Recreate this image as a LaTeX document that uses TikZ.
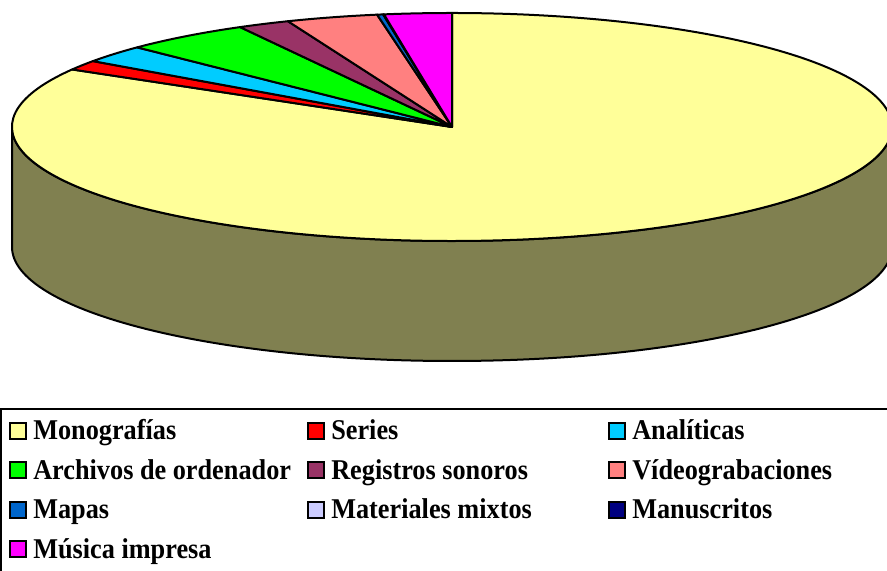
\documentclass[tikz,border=0pt]{standalone}
\usepackage{fontspec}
\setmainfont{Liberation Serif}
\usetikzlibrary{positioning}
\definecolor{mono}{HTML}{FFFF99}
\definecolor{monoside}{HTML}{808050}
\definecolor{series}{HTML}{FF0000}
\definecolor{analiticas}{HTML}{00CCFF}
\definecolor{archivos}{HTML}{00FF00}
\definecolor{registros}{HTML}{993366}
\definecolor{video}{HTML}{FF8080}
\definecolor{mapas}{HTML}{0066CC}
\definecolor{mixtos}{HTML}{CCCCFF}
\definecolor{manuscritos}{HTML}{000080}
\definecolor{musica}{HTML}{FF00FF}
\tikzset{
  slice/.style={line width=1.5pt, line join=round},
  swatch/.style={draw, line width=1.5pt, minimum size=12pt, inner sep=0pt, outer sep=0pt},
  entry/.style={inner sep=0pt, yscale=1.09, font=\bfseries\fontsize{19.7}{24}\selectfont}
}

\begin{document}
\begin{tikzpicture}[x=0.75pt,y=0.75pt]
		\useasboundingbox (0,0) rectangle (887,570);
		\clip (0,0) rectangle (887,570);
		\coordinate (ctr) at (452,443);
		% side of the pie
		\filldraw [slice, fill=monoside] (12,443) -- (12,323) arc[start angle=180, end angle=360, x radius=440, y radius=114] -- (892,443) arc[start angle=0, end angle=-180, x radius=440, y radius=114] -- cycle;
		% top of the pie
		\foreach \a/\b/\c in {149.7/450/mono, 144.7/149.7/series, 135.7/144.7/analiticas, 118.8/135.7/archivos, 111.9/118.8/registros, 99.8/111.9/video, 99.0/99.8/mapas, 98.9/99.0/manuscritos, 90/98.9/musica}
			\filldraw [slice, fill=\c] (ctr) -- ++(\a:440 and 114) arc[start angle=\a, end angle=\b, x radius=440, y radius=114] -- cycle;
		% legend
		\draw [line width=1.5pt] (1,161) rectangle (900,-10);
		\foreach \n/\t/\x/\y in {mono/Monografías/10/130, series/Series/308/130, analiticas/Analíticas/609/130, archivos/Archivos de ordenador/10/90.5, registros/Registros sonoros/308/90.5, video/Vídeograbaciones/609/90.5, mapas/Mapas/10/51, mixtos/Materiales mixtos/308/51, manuscritos/Manuscritos/609/51, musica/Música impresa/10/11.5} {
			\node [swatch, fill=\n, anchor=south west] (s\n) at (\x,\y+1) {};
			\node [entry, anchor=base west] (t\n) at (\x+23,\y) {\t};
		}
\end{tikzpicture}
\end{document}
